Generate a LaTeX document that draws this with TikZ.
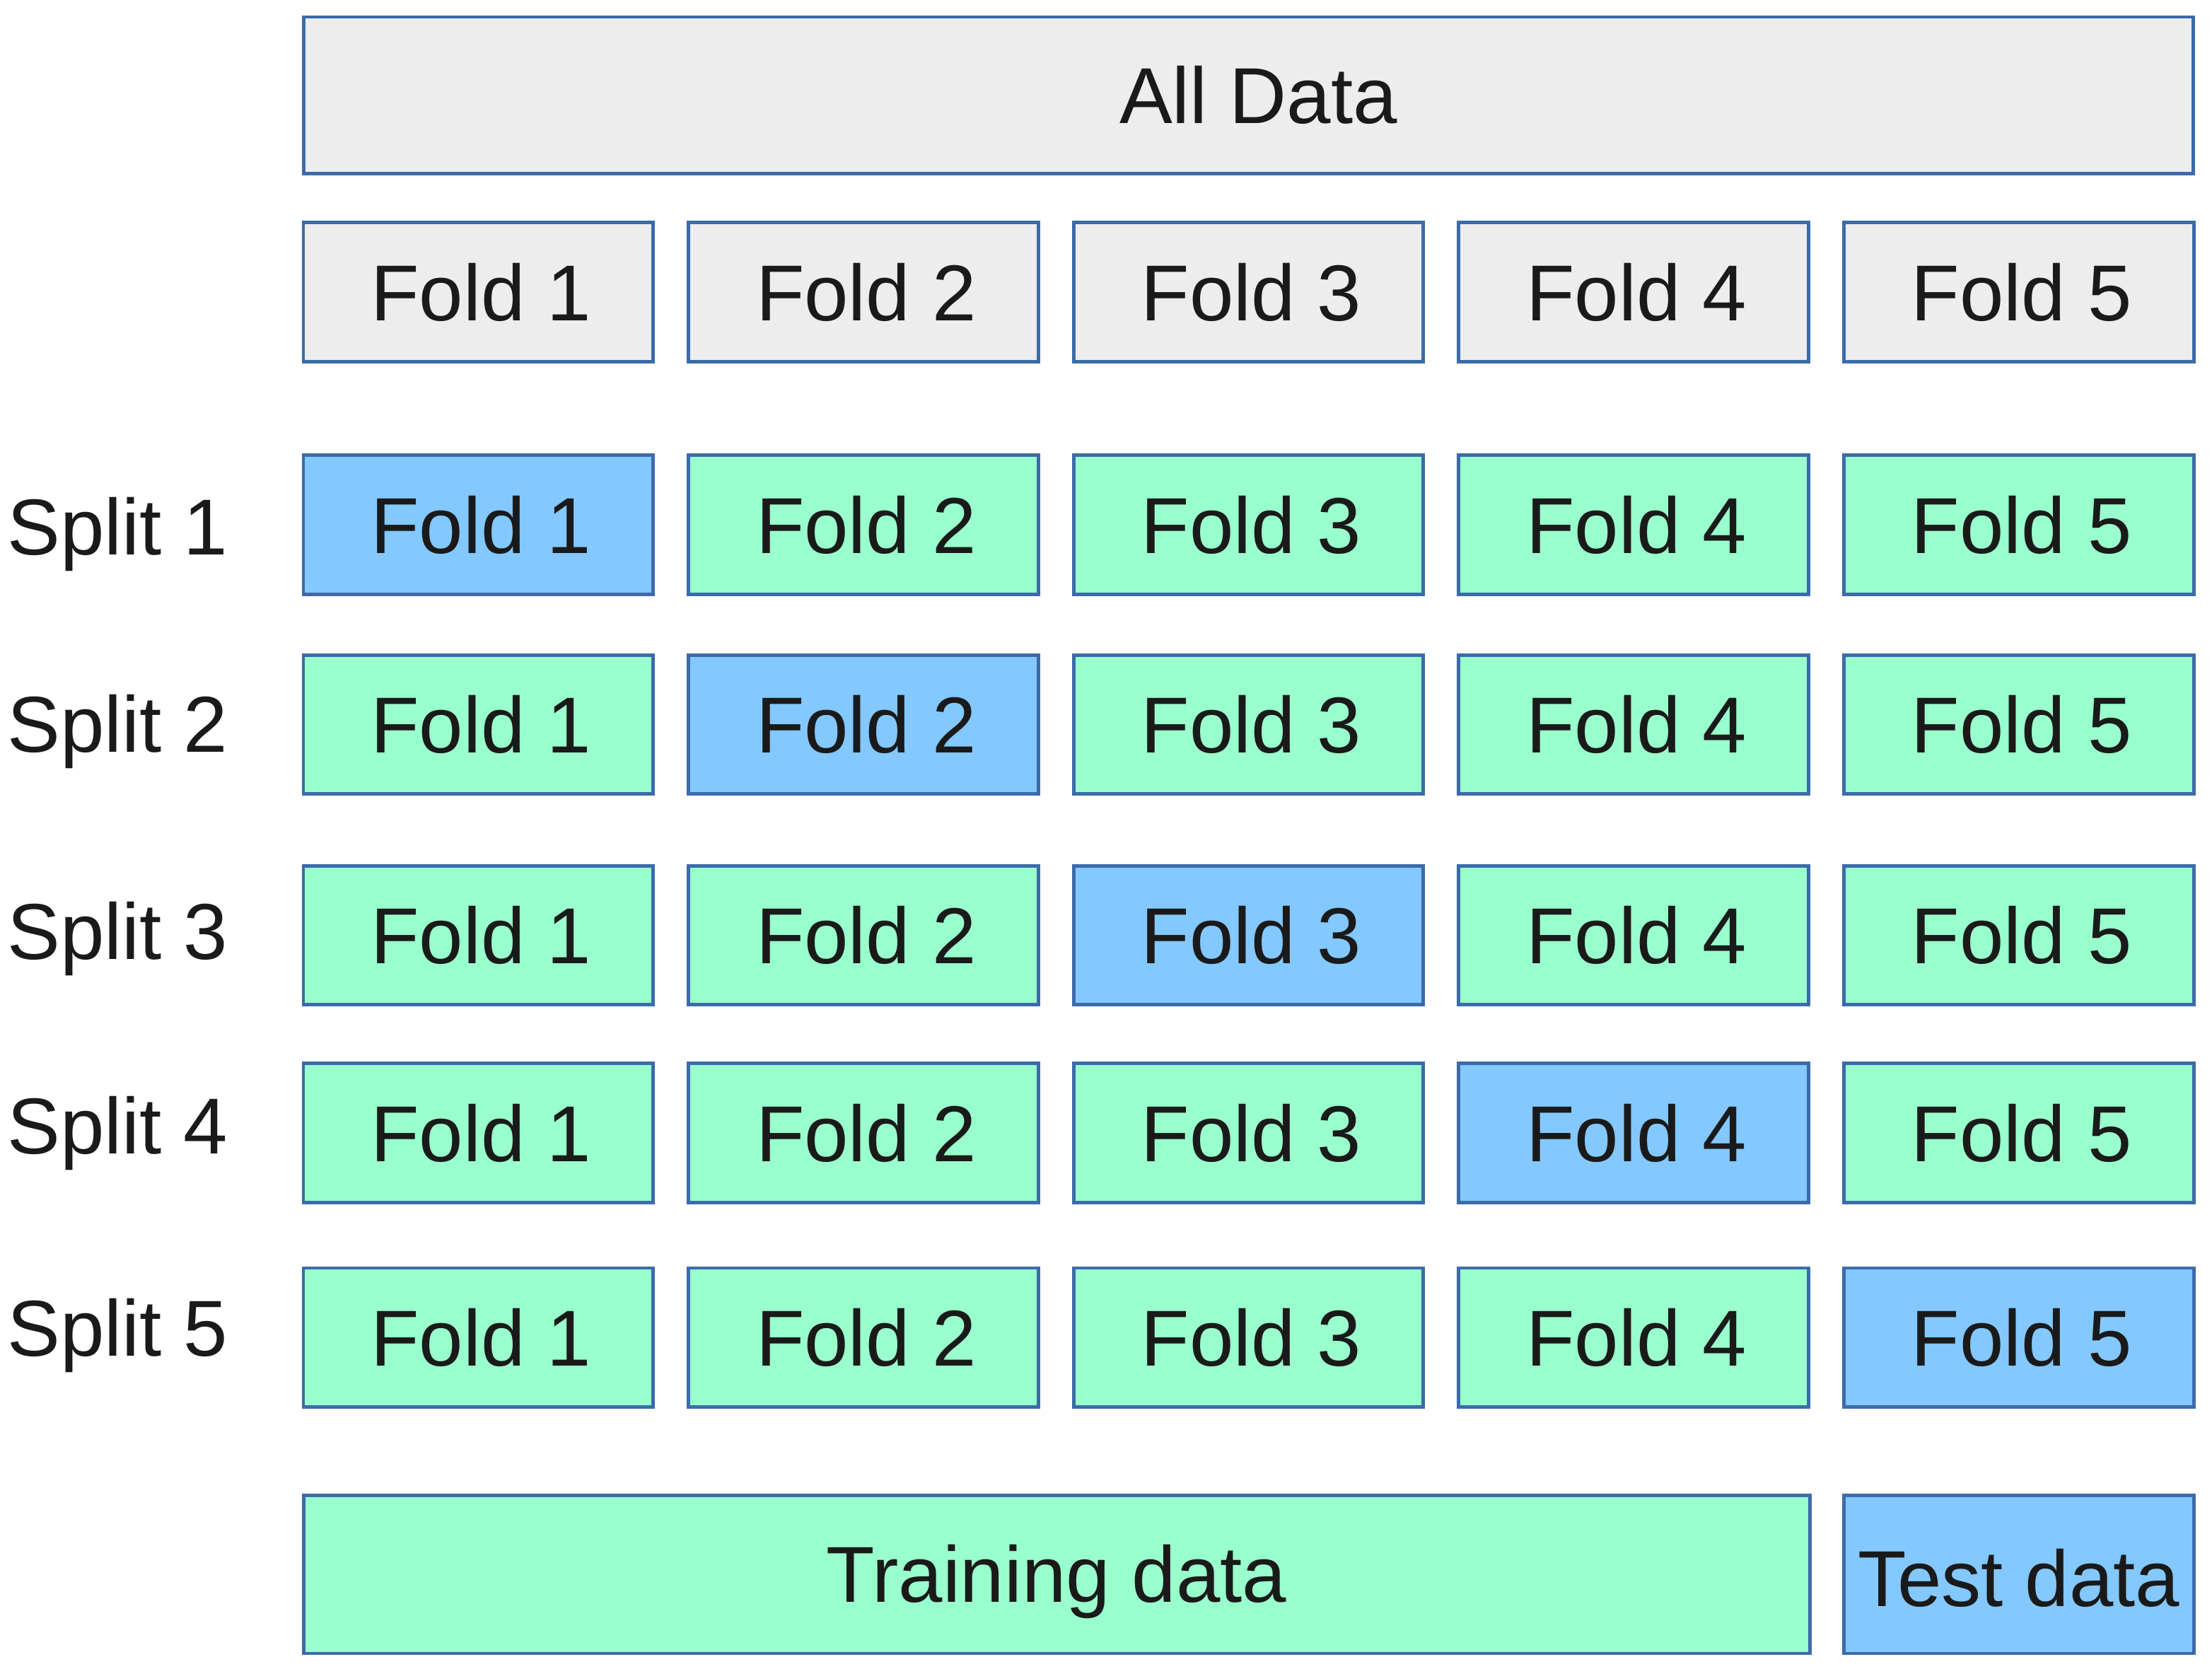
\documentclass[tikz,border=0pt]{standalone}
\usepackage{fontspec}
\setmainfont{Liberation Sans}
\definecolor{edge}{HTML}{3C6BAA}
\definecolor{allgray}{HTML}{EDEDED}
\definecolor{traingreen}{HTML}{99FFCC}
\definecolor{testblue}{HTML}{83C8FF}
\definecolor{ink}{HTML}{1A1A1A}
\begin{document}
\begin{tikzpicture}[x=0.02cm,y=-0.02cm,
  txt/.style={font=\fontsize{32}{38}\selectfont, text=ink},
  box/.style={txt, draw=edge, line width=1.4pt, inner sep=0pt, outer sep=0pt},
  cell/.style={box, minimum width=4.96cm, minimum height=1.97cm},
  lbl/.style={txt, anchor=base west, inner sep=0pt}]
\useasboundingbox[fill=white] (0,0) rectangle (1568,1183);
% All data
\node[box, fill=allgray, minimum width=26.8cm, minimum height=2.22cm,
  label={[txt, xshift=0.14cm]center:All Data}] (all) at (885,67.5) {};
% fold header row
\foreach \c in {1,...,5} {
  \node[cell, fill=allgray] (h\c) at ({339+273*(\c-1)},207) {\hspace*{0.08cm}Fold \c};
}
% split rows
\foreach \r/\y/\by in {1/372/393, 2/513.5/533, 3/663/680, 4/803/818, 5/948/961} {
  \node[lbl] (split\r) at (5,\by) {Split \r};
  \foreach \c in {1,...,5} {
    \ifnum\c=\r \def\fc{testblue}\else\def\fc{traingreen}\fi
    \node[cell, fill=\fc] (s\r c\c) at ({339+273*(\c-1)},\y) {\hspace*{0.08cm}Fold \c};
  }
}
% bottom legend
\node[box, fill=traingreen, minimum width=21.36cm, minimum height=2.24cm,
  label={[txt, yshift=-0.1cm]center:Training data}] (train) at (749,1116) {};
\node[box, fill=testblue, minimum width=4.96cm, minimum height=2.24cm,
  label={[txt, yshift=-0.05cm]center:Test data}] (test) at (1431,1116) {};
\end{tikzpicture}
\end{document}
